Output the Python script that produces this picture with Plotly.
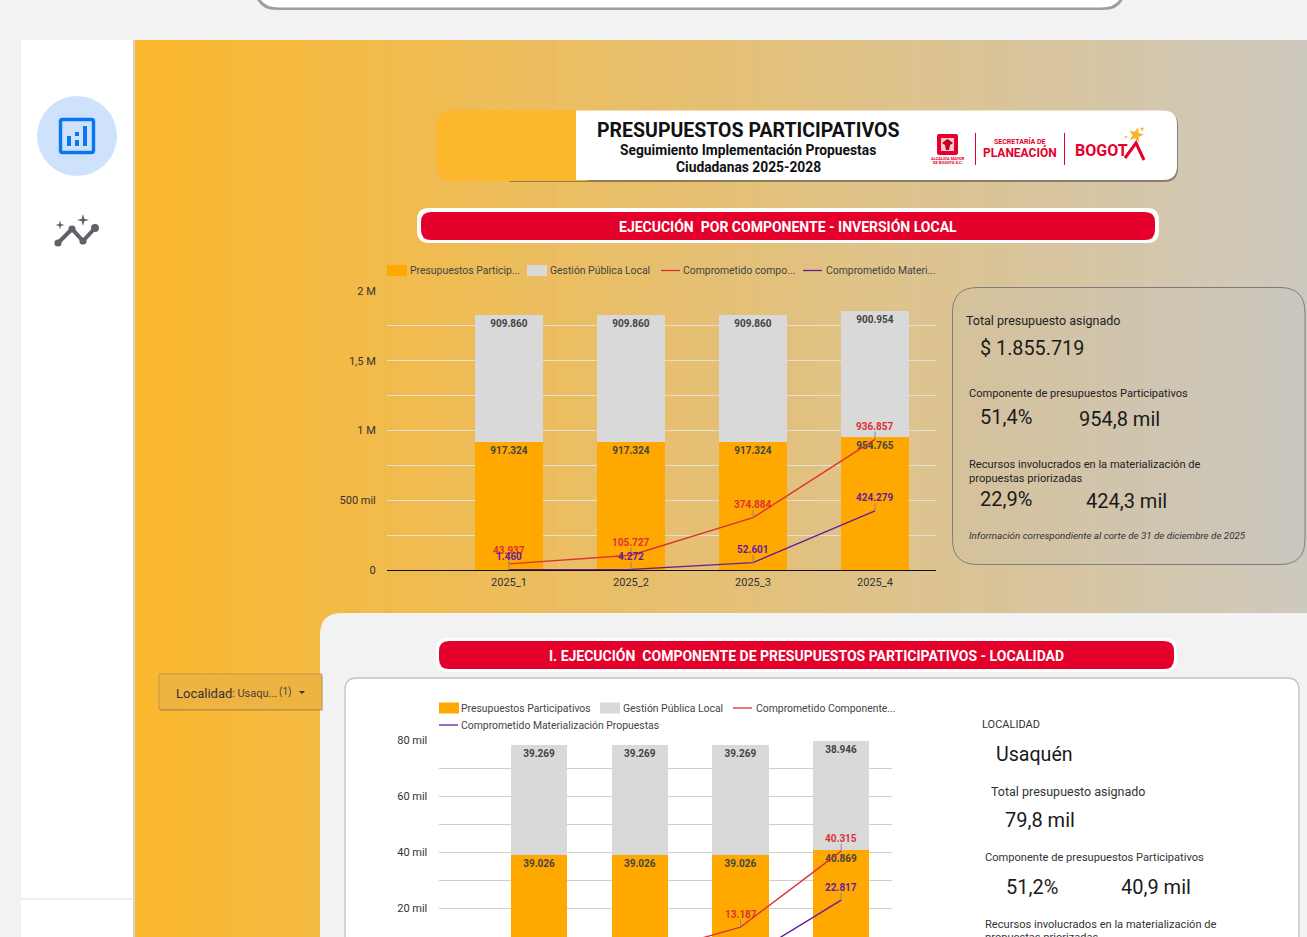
import plotly.graph_objects as go

W, H = 1307, 937

# ---------- data ----------
periods = ["2025_1", "2025_2", "2025_3", "2025_4"]

inv_participativos = [917324, 917324, 917324, 954765]
inv_gestion = [909860, 909860, 909860, 900954]
inv_comprometido = [43937, 105727, 374884, 936857]
inv_materializacion = [1460, 4272, 52601, 424279]

loc_participativos = [39026, 39026, 39026, 40869]
loc_gestion = [39269, 39269, 39269, 38946]
loc_comprometido = [1400, 3000, 13187, 40315]
loc_materializacion = [100, 300, 800, 22817]

inv_ticks = [0, 250000, 500000, 750000, 1000000, 1250000, 1500000, 1750000, 2000000]
inv_ticktext = ["0", "", "500 mil", "", "1 M", "", "1,5 M", "", "2 M"]
loc_ticks = [10000, 20000, 30000, 40000, 50000, 60000, 70000, 80000]
loc_ticktext = ["", "20 mil", "", "40 mil", "", "60 mil", "", "80 mil"]

inv_legend = ["Presupuestos Particip...", "Gestión Pública Local", "Comprometido compo...", "Comprometido Materi..."]
loc_legend = ["Presupuestos Participativos", "Gestión Pública Local", "Comprometido Componente...",
              "Comprometido Materialización Propuestas"]

ORANGE = "#FFA900"
GREY = "#D9D9D9"
RED = "#DB3236"
PURPLE = "#6A1B9A"
CRIMSON = "#E4002B"
FONT = "Roboto"


# ---------- helpers ----------
def px(x):
    return x / W


def py(y):
    return 1 - y / H


def rr_path(x0, y0, x1, y1, r):
    a, b, c, d = px(x0), py(y0), px(x1), py(y1)
    rx, ry = r / W, r / H
    return (f"M{a+rx},{b} L{c-rx},{b} Q{c},{b} {c},{b-ry} L{c},{d+ry} Q{c},{d} {c-rx},{d} "
            f"L{a+rx},{d} Q{a},{d} {a},{d+ry} L{a},{b-ry} Q{a},{b} {a+rx},{b} Z")


shapes = []
notes = []


def rrect(x0, y0, x1, y1, r, fill, line=None, lw=1):
    shapes.append(dict(type="path", xref="paper", yref="paper", path=rr_path(x0, y0, x1, y1, r),
                       fillcolor=fill, line=dict(color=line or "rgba(0,0,0,0)", width=lw if line else 0),
                       layer="below"))


def rect(x0, y0, x1, y1, fill):
    shapes.append(dict(type="rect", xref="paper", yref="paper", x0=px(x0), x1=px(x1), y0=py(y0), y1=py(y1),
                       fillcolor=fill, line=dict(width=0), layer="below"))


def seg(x0, y0, x1, y1, color, w=1):
    shapes.append(dict(type="line", xref="paper", yref="paper", x0=px(x0), x1=px(x1), y0=py(y0), y1=py(y1),
                       line=dict(color=color, width=w), layer="below"))


def poly(points, fill=None, line=None, lw=1, close=True):
    d = "M" + " L".join(f"{px(a)},{py(b)}" for a, b in points) + (" Z" if close else "")
    shapes.append(dict(type="path", xref="paper", yref="paper", path=d, fillcolor=fill or "rgba(0,0,0,0)",
                       line=dict(color=line or "rgba(0,0,0,0)", width=lw if line else 0), layer="below"))


def circle(cx, cy, r, fill):
    shapes.append(dict(type="circle", xref="paper", yref="paper", x0=px(cx - r), x1=px(cx + r),
                       y0=py(cy + r), y1=py(cy - r), fillcolor=fill, line=dict(width=0), layer="below"))


def text(x, y, s, size, color="#222", anchor="left"):
    notes.append(dict(xref="paper", yref="paper", x=px(x - 1 if anchor == "left" else x), y=py(y), text=s,
                      showarrow=False, xanchor=anchor, yanchor="middle", borderpad=0,
                      font=dict(family=FONT, size=size, color=color)))


def star(cx, cy, R, fill):
    import math
    pts = []
    for i in range(10):
        r = R if i % 2 == 0 else R * 0.42
        ang = math.radians(-75 + i * 36)
        pts.append((cx + r * math.cos(ang), cy + r * math.sin(ang)))
    poly(pts, fill=fill)


def thousands(v):
    return f"{v:,}".replace(",", ".")


# ---------- page furniture ----------
rrect(255, -40, 1125, 10, 22, "rgba(90,90,90,0.55)")
rrect(257, -40, 1123, 7.5, 22, "#FFFFFF")
rect(21, 40, 134, 937, "#FFFFFF")
rect(133, 40, 135, 937, "#D4D4D4")
seg(21, 899, 133, 899, "#DDDDDD", 1)

# background gradient (banded, as in the picture)
steps = 72
c0, c1 = (251, 183, 45), (206, 201, 190)
for i in range(steps):
    t = i / (steps - 1)
    col = "rgb(%d,%d,%d)" % tuple(round(c0[k] + (c1[k] - c0[k]) * t) for k in range(3))
    rect(135 + (W - 135) * i / steps, 40, 135 + (W - 135) * (i + 1) / steps + 0.5, 937, col)

# sidebar icons
circle(77, 136, 40, "#CFE2FC")
rrect(60.5, 119.5, 93.5, 152.5, 2, "rgba(0,0,0,0)", "#0B76F5", 3.4)
rect(67, 136, 71, 146, "#0B76F5")
rect(75, 132, 79, 136, "#0B76F5")
rect(75, 140, 79, 146, "#0B76F5")
rect(83, 126, 87, 146, "#0B76F5")
poly([(58, 243), (72, 229), (83, 241), (95, 228)], line="#5F6368", lw=4, close=False)
for cx, cy, r in [(58, 243, 3.6), (72, 229, 3.6), (83, 241, 3.6), (95, 228, 4)]:
    circle(cx, cy, r, "#5F6368")
for cx, cy, r in [(83, 220, 6), (60, 225, 4.5)]:
    poly([(cx, cy - r), (cx + r * .22, cy - r * .22), (cx + r, cy), (cx + r * .22, cy + r * .22),
          (cx, cy + r), (cx - r * .22, cy + r * .22), (cx - r, cy), (cx - r * .22, cy - r * .22)], fill="#5F6368")

# header
rrect(500, 112, 1178, 182, 14, "rgba(70,70,70,0.55)")
rrect(436, 110, 600, 181, 18, "#FDB72D")
rrect(560, 110.5, 1177, 180, 14, "#FFFFFF")
rect(540, 110, 576, 181, "#FDB72D")
text(748, 130, "<b>PRESUPUESTOS PARTICIPATIVOS</b>", 19.5, "#111", "center")
text(748, 150, "<b>Seguimiento Implementación Propuestas</b>", 13.8, "#111", "center")
text(748, 167, "<b>Ciudadanas 2025-2028</b>", 13.8, "#111", "center")

# logos
rrect(937, 134, 958, 155, 2, "#E4002B")
rect(941, 138, 954, 151, "#F8C8CF")
poly([(947.5, 139), (953, 143), (950, 145), (949, 150), (946, 150), (945, 145), (942, 143)], fill="#C00020")
text(947.5, 158.5, "<b>ALCALDÍA MAYOR</b>", 4, "#E4002B", "center")
text(947.5, 162.5, "<b>DE BOGOTÁ D.C.</b>", 4, "#E4002B", "center")
seg(975.5, 133, 975.5, 165, "#E4002B", 1)
seg(1064.5, 133, 1064.5, 165, "#E4002B", 1)
text(1020, 142, "<b>SECRETARÍA DE</b>", 7, "#E4002B", "center")
text(1020, 152.5, "<b>PLANEACIÓN</b>", 12, "#E4002B", "center")
text(1075, 151, "<b>BOGOT</b>", 16, "#E4002B", "left")
poly([(1125, 158), (1136, 143), (1144, 160)], line="#E4002B", lw=3, close=False)
star(1136, 135, 8, "#F9B233")
star(1142, 129, 2.5, "#F9B233")
star(1126, 137, 2, "#F9B233")

# section titles
rrect(417, 208, 1159, 243, 12, "#FFFFFF")
rrect(421, 212, 1155, 240, 10, CRIMSON)
text(788, 226, "<b>EJECUCIÓN \u00a0POR COMPONENTE - INVERSIÓN LOCAL</b>", 14, "#FFFFFF", "center")

# KPI panel
rrect(952.5, 287.5, 1305, 564.5, 25, "rgba(190,190,195,0.18)", "#7D7D7D", 1)
text(966, 320, "Total presupuesto asignado", 12.5, "#222")
text(980, 348, "$ 1.855.719", 19.8, "#1a1a1a")
text(969, 393.5, "Componente de presupuestos Participativos", 11.1, "#222")
text(980, 417, "51,4%", 20, "#1a1a1a")
text(1079, 419, "954,8 mil", 20, "#1a1a1a")
text(969, 464.5, "Recursos involucrados en la materialización de", 11.1, "#222")
text(969, 478.5, "propuestas priorizadas", 11.1, "#222")
text(980, 499, "22,9%", 20, "#1a1a1a")
text(1086, 501, "424,3 mil", 20, "#1a1a1a")
text(969, 535, "<i>Información correspondiente al corte de 31 de diciembre de 2025</i>", 9.8, "#333")

# lower sheet
rrect(320, 613, 1340, 1000, 22, "#F2F2F2")
rrect(436, 638, 1177, 672, 12, "#FFFFFF")
rrect(439, 641, 1174, 669, 10, CRIMSON)
text(806, 655, "<b>I. EJECUCIÓN \u00a0COMPONENTE DE PRESUPUESTOS PARTICIPATIVOS - LOCALIDAD</b>", 14, "#FFFFFF", "center")
rrect(345, 678, 1299, 1000, 12, "#FFFFFF", "#C4C4C4", 1.4)

# filter
rect(160, 676, 323, 711, "rgba(90,70,30,0.2)")
rect(159, 674, 322, 709.5, "#EFB341")
shapes.append(dict(type="rect", xref="paper", yref="paper", x0=px(159), x1=px(322), y0=py(709.5), y1=py(674),
                   fillcolor="rgba(0,0,0,0)", line=dict(color="rgba(120,115,100,0.4)", width=1), layer="below"))
text(176, 693, "Localidad", 13, "#333")
text(232, 693.5, ": Usaqu...", 11, "#444")
text(279, 692, "(1)", 10, "#444")
poly([(299, 691), (305, 691), (302, 694)], fill="#333")

text(982, 724, "LOCALIDAD", 11, "#333")
text(996, 754, "Usaquén", 19.6, "#1a1a1a")
text(991, 791, "Total presupuesto asignado", 12.5, "#333")
text(1005, 820, "79,8 mil", 20, "#1a1a1a")
text(985, 857, "Componente de presupuestos Participativos", 11.1, "#333")
text(1006, 887, "51,2%", 20, "#1a1a1a")
text(1121, 887, "40,9 mil", 20, "#1a1a1a")
text(985, 924, "Recursos involucrados en la materialización de", 11.1, "#333")
text(985, 937, "propuestas priorizadas", 11.1, "#333")


def legend_items(items):
    for kind, x0, y, color, tx, label in items:
        if kind == "bar":
            rect(x0, y - 5.5, x0 + 20, y + 5.5, color)
        else:
            seg(x0, y, x0 + 19, y, color, 1.3)
        text(tx, y, label, 10.4, "#444")


legend_items([
    ("bar", 387, 270.5, ORANGE, 409.5, inv_legend[0]),
    ("bar", 527, 270.5, GREY, 550, inv_legend[1]),
    ("line", 661, 270.5, RED, 683.5, inv_legend[2]),
    ("line", 803, 270.5, PURPLE, 826, inv_legend[3]),
])
legend_items([
    ("bar", 439, 708, ORANGE, 461, loc_legend[0]),
    ("bar", 600, 708, GREY, 623, loc_legend[1]),
    ("line", 733, 708, RED, 755.5, loc_legend[2]),
    ("line", 439, 725, PURPLE, 461, loc_legend[3]),
])

# ---------- traces ----------
fig = go.Figure()
bar_font = dict(family=FONT, size=10, color="#444444")


def add_group(xa, ya, parts, gest, comp, mat, names, line_w):
    for vals, col, nm in [(parts, ORANGE, names[0]), (gest, GREY, names[1])]:
        fig.add_trace(go.Bar(x=periods, y=vals, name=nm, marker=dict(color=col, line=dict(width=0)),
                             text=[f"<b>{thousands(v)}</b>" for v in vals], textposition="inside",
                             insidetextanchor="end", textangle=0, constraintext="none",
                             textfont=bar_font, xaxis=xa, yaxis=ya, width=0.557, hoverinfo="skip"))
    for vals, col, nm in [(comp, RED, names[2]), (mat, PURPLE, names[3])]:
        fig.add_trace(go.Scatter(x=periods, y=vals, name=nm, mode="lines", line=dict(color=col, width=line_w),
                                 xaxis=xa, yaxis=ya, hoverinfo="skip"))
        for p, v in zip(periods, vals):
            notes.append(dict(xref=xa, yref=ya, x=p, y=v, text=f"<b>{thousands(v)}</b>", showarrow=True,
                              ax=0, ay=-13, arrowhead=0, arrowwidth=1, arrowcolor="#8A8A8A", standoff=0,
                              borderpad=0, borderwidth=0,
                              font=dict(family=FONT, size=10, color=col)))


add_group("x", "y", inv_participativos, inv_gestion, inv_comprometido, inv_materializacion,
          ["Presupuestos Participativos", "Gestión Pública Local", "Comprometido componente",
           "Comprometido Materialización"], 1.4)
add_group("x2", "y2", loc_participativos, loc_gestion, loc_comprometido, loc_materializacion,
          ["Presupuestos Participativos ", "Gestión Pública Local ", "Comprometido Componente",
           "Comprometido Materialización Propuestas"], 1.4)

tickfont = dict(family=FONT, size=11, color="#333333")
loc_low = (964 - 937) / 2.8 * 1000

fig.update_layout(
    width=W, height=H, autosize=False, margin=dict(l=0, r=0, t=0, b=0, pad=0, autoexpand=False),
    paper_bgcolor="#F2F2F2", plot_bgcolor="rgba(0,0,0,0)", barmode="stack", showlegend=False,
    font=dict(family=FONT), shapes=shapes, annotations=notes,
    xaxis=dict(domain=[px(387), px(936)], type="category", range=[-1, 3.5], anchor="y", showgrid=False,
               showline=True, linecolor="#111111", linewidth=1, ticks="outside", ticklen=2,
               tickcolor="rgba(0,0,0,0)", tickfont=tickfont, fixedrange=True),
    yaxis=dict(domain=[py(570), py(291)], range=[0, 2000000], anchor="x", tickmode="array", tickvals=inv_ticks,
               ticktext=inv_ticktext, gridcolor="#E3E0D8", gridwidth=1, zeroline=False, ticks="outside", ticklen=8,
               tickcolor="rgba(0,0,0,0)", tickfont=tickfont, fixedrange=True),
    xaxis2=dict(domain=[px(438.5), px(891.5)], type="category", range=[-1, 3.5], anchor="y2", showgrid=False,
                showticklabels=False, showline=False, fixedrange=True),
    yaxis2=dict(domain=[0, py(740)], range=[loc_low, 80000], anchor="x2", tickmode="array", tickvals=loc_ticks,
                ticktext=loc_ticktext, gridcolor="#CFCFCF", gridwidth=1, zeroline=False, ticks="outside", ticklen=8,
                tickcolor="rgba(0,0,0,0)", tickfont=tickfont, fixedrange=True),
)

fig.write_html("out.html", config=dict(displayModeBar=False),
               post_script="document.body.style.margin='0';document.documentElement.style.overflow='hidden';")
